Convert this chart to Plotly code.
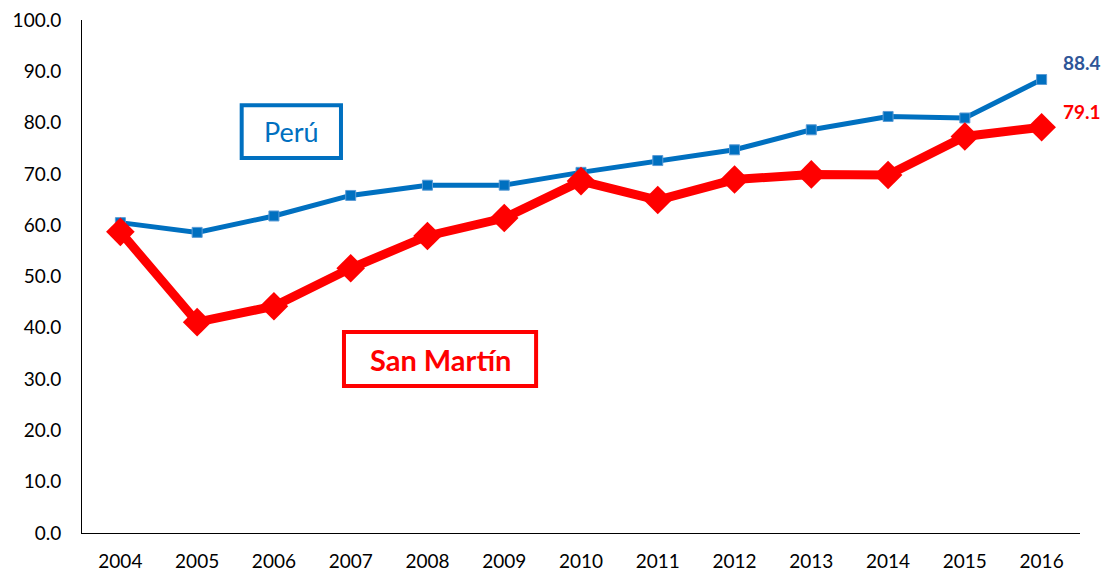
import plotly.graph_objects as go

years = ["2004", "2005", "2006", "2007", "2008", "2009", "2010", "2011", "2012", "2013", "2014", "2015", "2016"]
peru = [60.5, 58.6, 61.8, 65.8, 67.8, 67.8, 70.3, 72.6, 74.7, 78.6, 81.2, 80.9, 88.4]
san_martin = [58.7, 41.1, 44.2, 51.6, 57.9, 61.4, 68.6, 64.9, 68.9, 69.9, 69.8, 77.3, 79.1]
y_ticks = [0, 10, 20, 30, 40, 50, 60, 70, 80, 90, 100]

FONT = "Lato"
BLUE = "#0070C0"
RED = "#FF0000"

fig = go.Figure()
fig.add_trace(go.Scatter(
    x=years, y=peru, mode="lines+markers", name="Perú",
    line=dict(color=BLUE, width=5),
    marker=dict(symbol="square", size=10, color=BLUE, line=dict(color="#5B9BD5", width=1)),
    cliponaxis=False,
))
fig.add_trace(go.Scatter(
    x=years, y=san_martin, mode="lines+markers", name="San Martín",
    line=dict(color=RED, width=9),
    marker=dict(symbol="diamond", size=22, color=RED),
    cliponaxis=False,
))

last = len(years) - 1
# end-point data labels
fig.add_annotation(x=last, y=peru[-1], text=f"<b>{peru[-1]:.1f}</b>", showarrow=False,
                   xref="x", yref="y", xshift=40, yshift=17, xanchor="center", yanchor="middle",
                   font=dict(family=FONT, size=19, color="#2F5597"))
fig.add_annotation(x=last, y=san_martin[-1], text=f"<b>{san_martin[-1]:.1f}</b>", showarrow=False,
                   xref="x", yref="y", xshift=40, yshift=16, xanchor="center", yanchor="middle",
                   font=dict(family=FONT, size=19, color=RED))

# legend boxes
fig.add_shape(type="rect", xref="paper", yref="paper", x0=0.160, x1=0.2595, y0=0.731, y1=0.834,
              line=dict(color=BLUE, width=4), fillcolor="white", layer="above")
fig.add_annotation(xref="paper", yref="paper", x=0.2097, y=0.783, text="Perú", showarrow=False,
                   xanchor="center", yanchor="middle",
                   font=dict(family=FONT, size=27, color=BLUE))
fig.add_shape(type="rect", xref="paper", yref="paper", x0=0.2625, x1=0.455, y0=0.2865, y1=0.392,
              line=dict(color=RED, width=4), fillcolor="white", layer="above")
fig.add_annotation(xref="paper", yref="paper", x=0.3588, y=0.339, text="<b>San Martín</b>", showarrow=False,
                   xanchor="center", yanchor="middle",
                   font=dict(family=FONT, size=29, color=RED))

fig.update_layout(
    width=1102, height=573,
    margin=dict(l=82, r=22, t=20, b=40, autoexpand=False),
    paper_bgcolor="white", plot_bgcolor="white",
    showlegend=False,
    font=dict(family=FONT, size=19, color="#000000"),
)
fig.update_xaxes(type="category", range=[-0.5, last + 0.5], showline=True, linecolor="#000000", linewidth=1,
                 showgrid=False, ticks="", tickfont=dict(size=19), ticklabelstandoff=11,
                 automargin=False, ticklabeloverflow="allow")
fig.update_yaxes(range=[0, 100], tickvals=y_ticks, tickformat=".1f", showline=True,
                 linecolor="#000000", linewidth=1, showgrid=False, zeroline=False, ticks="",
                 tickfont=dict(size=19), ticklabelstandoff=16,
                 automargin=False, ticklabeloverflow="allow")

fig.write_html("out.html", config={"displayModeBar": False},
               post_script="document.body.style.margin='0';document.body.style.overflow='hidden';")
